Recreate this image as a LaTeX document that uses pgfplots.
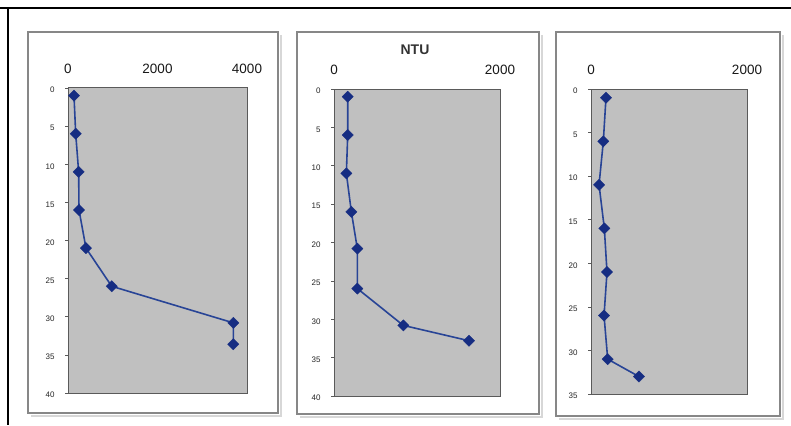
\documentclass[border=0pt]{standalone}
\usepackage{fontspec}
\setmainfont{Liberation Sans}
\usepackage{pgfplots}
\pgfplotsset{compat=1.18}
\definecolor{plotbg}{RGB}{192,192,192}
\definecolor{navy}{RGB}{22,45,130}
\definecolor{linec}{RGB}{40,68,150}
\definecolor{frame}{RGB}{135,135,135}
\definecolor{shadow}{RGB}{215,215,215}
\definecolor{axframe}{RGB}{90,90,90}
\pgfplotsset{
  panel/.style={
    scale only axis,
    y dir=reverse,
    xmin=0, ymin=0,
    axis background/.style={fill=plotbg},
    axis line style={draw=axframe, line width=1pt},
    xticklabel pos=upper,
    ytick pos=left,
    tick align=outside,
    major tick length=3pt,
    tick style={draw=axframe, line width=0.6pt},
    xtick style={draw=none},
    xticklabel style={font=\fontsize{13.5}{14}\selectfont, text=black!90, yshift=8pt},
    yticklabel style={font=\fontsize{8}{9}\selectfont, text=black!85, xshift=-7pt, yshift=-2pt},
    /pgf/number format/assume math mode=true,
    scaled x ticks=false,
    /pgf/number format/1000 sep={},
    clip=false,
  },
  series/.style={color=linec, line width=1.6pt, mark=square*, mark size=4pt,
    mark options={rotate=45, fill=navy, draw=navy, line width=0.3pt}},
}
\begin{document}
\begin{tikzpicture}[x=1pt,y=1pt]
\useasboundingbox (0,0) rectangle (791,425);
\fill[white] (0,0) rectangle (791,425);
% outer lines
\draw[black, line width=1.6pt] (0,417) -- (791,417);
\draw[black, line width=1.2pt] (8,417) -- (8,0);
% panel boxes with shadow
\draw[shadow, line width=1.5pt] (31,9) -- (281,9) -- (281,390);
\draw[frame, line width=1.2pt] (28,12) rectangle (278,393);
\draw[shadow, line width=1.5pt] (300,8) -- (542,8) -- (542,390);
\draw[frame, line width=1.2pt] (297,11) rectangle (539,393);
\draw[shadow, line width=1.5pt] (559,6) -- (783,6) -- (783,390);
\draw[frame, line width=1.2pt] (556,9) rectangle (780,393);

\begin{axis}[panel, at={(68pt,32pt)}, anchor=south west, width=179pt, height=305pt,
  xmax=4000, ymax=40, xtick={0,2000,4000}, ytick={0,5,...,40}]
\addplot[series] coordinates {
(134,1) (172,6) (238,11) (246,16) (402,21) (976,26) (3694,30.8) (3694,33.6)
};
\end{axis}

\begin{axis}[panel, at={(334pt,29pt)}, anchor=south west, width=166pt, height=307pt,
  xmax=2000, ymax=40, xtick={0,2000}, ytick={0,5,...,40}]
\addplot[series] coordinates {
(165,1) (165,6) (149,11) (209,16) (281,20.8) (281,26) (835,30.8) (1627,32.8)
};
\end{axis}
\node[font=\bfseries\fontsize{14}{15}\selectfont, text=black!80] at (415,375) {NTU};

\begin{axis}[panel, at={(591pt,31pt)}, anchor=south west, width=156pt, height=305pt,
  xmax=2000, ymax=35, xtick={0,2000}, ytick={0,5,...,35}]
\addplot[series] coordinates {
(192,1) (158,6) (103,11) (171,16) (205,21) (167,26) (214,31) (615,33)
};
\end{axis}
\end{tikzpicture}
\end{document}
